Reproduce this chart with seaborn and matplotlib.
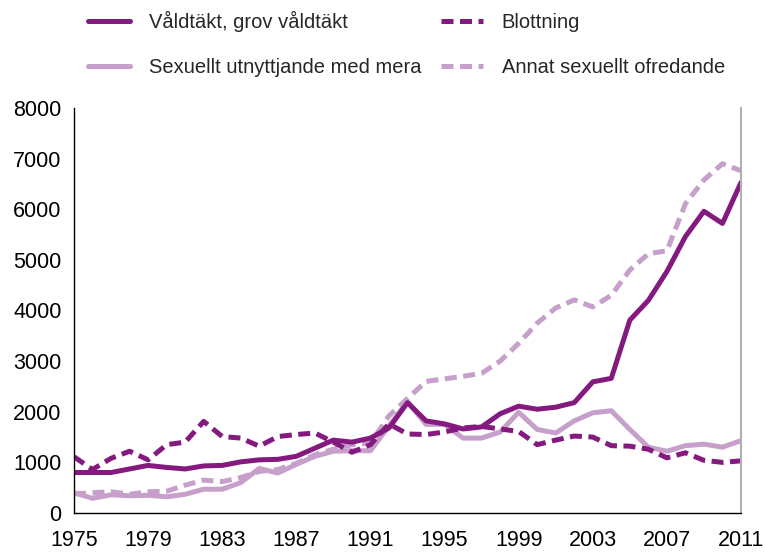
import numpy as np
import seaborn as sns
import pandas as pd
import matplotlib.pyplot as plt

years = list(range(1975, 2012))

valdtakt = [800, 800, 800, 870, 940, 900, 870, 930, 940, 1010, 1050, 1060, 1120, 1280, 1440,
            1400, 1480, 1680, 2180, 1820, 1760, 1660, 1700, 1960, 2110, 2050, 2090, 2180, 2590,
            2660, 3810, 4200, 4770, 5460, 5960, 5720, 6530]
blottning = [1110, 860, 1080, 1220, 1050, 1350, 1400, 1810, 1510, 1480, 1320, 1510, 1550, 1580, 1400,
             1200, 1350, 1760, 1560, 1550, 1600, 1680, 1710, 1660, 1610, 1350, 1440, 1520, 1500,
             1330, 1320, 1260, 1090, 1190, 1040, 1000, 1030]
sexuellt = [400, 290, 360, 340, 350, 320, 370, 470, 470, 600, 880, 790, 960, 1120, 1220,
            1230, 1230, 1720, 2200, 1750, 1750, 1480, 1480, 1600, 1990, 1650, 1580, 1820, 1980,
            2020, 1650, 1300, 1220, 1330, 1360, 1300, 1430]
annat = [380, 400, 420, 370, 420, 430, 550, 650, 620, 700, 820, 860, 980, 1150, 1260,
         1350, 1380, 1920, 2260, 2600, 2650, 2700, 2760, 3000, 3350, 3750, 4050, 4210, 4070,
         4300, 4800, 5120, 5180, 6110, 6580, 6900, 6760]

labels = ["Våldtäkt, grov våldtäkt", "Blottning",
          "Sexuellt utnyttjande med mera", "Annat sexuellt ofredande"]
dark = "#84197f"
light = "#c6a0cb"

df = pd.DataFrame({
    "year": years * 4,
    "value": valdtakt + blottning + sexuellt + annat,
    "kategori": [labels[0]] * 37 + [labels[1]] * 37 + [labels[2]] * 37 + [labels[3]] * 37,
})

sns.set_style("white")
plt.rcParams['font.family'] = ['Liberation Sans', 'DejaVu Sans']

fig = plt.figure(figsize=(7.65, 5.55), dpi=100)
ax = fig.add_axes([74 / 765, 1 - 513 / 555, (741 - 74) / 765, (513 - 108) / 555])

palette = {labels[0]: dark, labels[1]: dark, labels[2]: light, labels[3]: light}
dashes = {labels[0]: "", labels[1]: (2.4, 1.3), labels[2]: "", labels[3]: (2.4, 1.3)}
# light series first so the dark ones sit on top
order = [labels[3], labels[2], labels[1], labels[0]]
sns.lineplot(data=df, x="year", y="value", hue="kategori", style="kategori",
             hue_order=order, style_order=order, palette=palette, dashes=dashes,
             linewidth=3.6, ax=ax, legend=True)

ax.set_xlim(1975, 2011)
ax.set_ylim(0, 8000)
ax.set_xticks(range(1975, 2012, 2))
ax.set_xticklabels([str(y) if (y - 1975) % 4 == 0 else "" for y in range(1975, 2012, 2)])
ax.set_yticks(range(0, 8001, 1000))
ax.set_xlabel("")
ax.set_ylabel("")
ax.tick_params(axis="both", labelsize=15.5, colors="black", direction="out")
ax.tick_params(axis="x", length=8, width=1, pad=4)
ax.tick_params(axis="y", length=5, width=1, pad=4)
for s in ["left", "bottom"]:
    ax.spines[s].set_color("black")
    ax.spines[s].set_linewidth(1)
ax.spines["top"].set_visible(False)
ax.spines["right"].set_color("#b0b0b0")
ax.spines["right"].set_linewidth(1.5)

handles, lbls = ax.get_legend_handles_labels()
ax.get_legend().remove()
hmap = dict(zip(lbls, handles))
fig.legend([hmap[l] for l in labels[::2]] + [hmap[l] for l in labels[1::2]],
           labels[::2] + labels[1::2], ncol=2, loc="upper left",
           bbox_to_anchor=(70 / 765, 1 + 7 / 555), frameon=False, fontsize=14.5,
           handlelength=2.1, handletextpad=0.9, labelspacing=1.3, columnspacing=1.0)

fig.savefig("out.png", dpi=100)
